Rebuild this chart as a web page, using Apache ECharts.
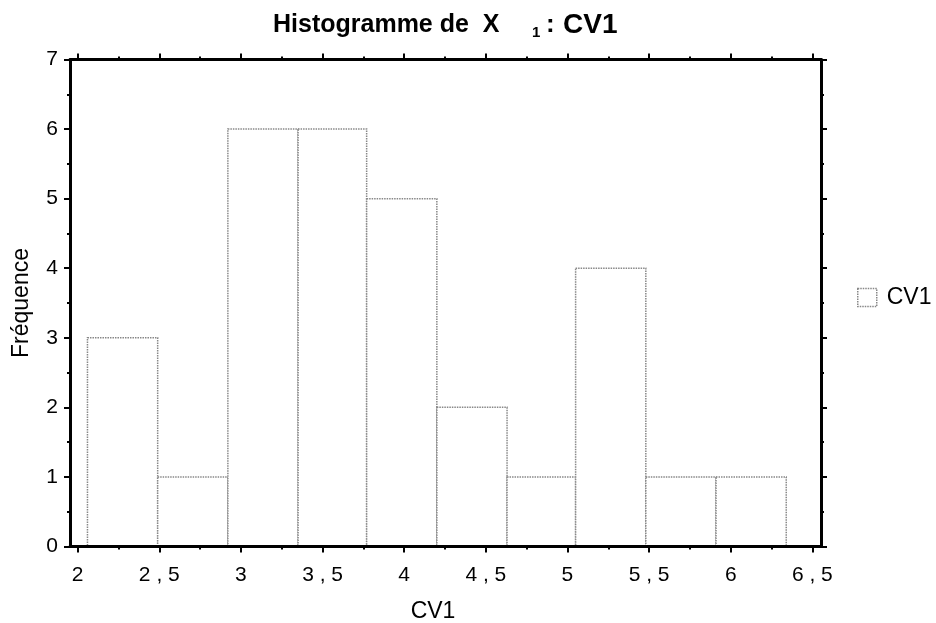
<!DOCTYPE html>
<html>
<head>
<meta charset="utf-8">
<script src="https://cdn.jsdelivr.net/npm/echarts@6/dist/echarts.min.js"></script>
<style>html,body{margin:0;padding:0;background:#fff;}#c{width:936px;height:623px;}</style>
</head>
<body>
<div id="c"></div>
<script>
// ---- data ----
const binStarts = [2.06, 2.49, 2.92, 3.35, 3.77, 4.20, 4.63, 5.05, 5.48, 5.91];
const binEnds   = [2.49, 2.92, 3.35, 3.77, 4.20, 4.63, 5.05, 5.48, 5.91, 6.34];
const frequencies = [3, 1, 6, 6, 5, 2, 1, 4, 1, 1];
const xTickValues = [2, 2.5, 3, 3.5, 4, 4.5, 5, 5.5, 6, 6.5];
const xTickLabels = ['2', '2 , 5', '3', '3 , 5', '4', '4 , 5', '5', '5 , 5', '6', '6 , 5'];
const xMinorTickValues = [2.25, 2.75, 3.25, 3.75, 4.25, 4.75, 5.25, 5.75, 6.25];
const seriesName = 'CV1';
const xAxisName = 'CV1';
const yAxisName = 'Fréquence';
const titleMain = 'Histogramme de  X';
const titleSub = '1';
const titleColon = ':';
const titleTail = 'CV1';

const XMIN = 1.953, XMAX = 6.553;
const FONT = "'Liberation Sans', Arial, Helvetica, sans-serif";

const data = binStarts.map((s, i) => [s, binEnds[i], frequencies[i]]);

const chart = echarts.init(document.getElementById('c'), null, {renderer: 'canvas'});

const axisLine = {show: true, lineStyle: {color: '#000', width: 3}};
const tickStyle = {color: '#000', width: 2};

chart.setOption({
  backgroundColor: '#fff',
  animation: false,
  title: [
    {text: titleMain, left: 273, top: 13, padding: 0,
     textStyle: {fontFamily: FONT, fontSize: 25, fontWeight: 'bold', color: '#000'}},
    {text: titleSub, left: 532, top: 25, padding: 0,
     textStyle: {fontFamily: FONT, fontSize: 15, fontWeight: 'bold', color: '#000'}},
    {text: titleColon, left: 546, top: 12, padding: 0,
     textStyle: {fontFamily: FONT, fontSize: 26, fontWeight: 'bold', color: '#000'}},
    {text: titleTail, left: 563, top: 11, padding: 0,
     textStyle: {fontFamily: FONT, fontSize: 28, fontWeight: 'bold', color: '#000'}}
  ],
  legend: {
    left: 857, top: 286, padding: 0, itemWidth: 19, itemHeight: 18,
    data: [{name: seriesName, icon: 'rect',
            itemStyle: {color: '#fff', borderColor: '#888', borderWidth: 1.5, borderType: [1.5, 1]}}],
    textStyle: {fontFamily: FONT, fontSize: 23, color: '#000', padding: [0, 0, 0, 5]}
  },
  grid: {left: 70, right: 115, top: 59.5, bottom: 76.5, outerBoundsMode: 'none', containLabel: false},
  xAxis: [
    {type: 'value', position: 'bottom', min: XMIN, max: XMAX, z: 10,
     axisLine: axisLine,
     axisTick: {show: true, customValues: xTickValues, length: 6, lineStyle: tickStyle},
     axisLabel: {show: true, customValues: xTickValues, margin: 18,
                 fontFamily: FONT, fontSize: 21, color: '#000',
                 formatter: v => { const i = xTickValues.findIndex(t => Math.abs(t - v) < 1e-6); return i >= 0 ? xTickLabels[i] : ''; }},
     splitLine: {show: false},
     name: xAxisName, nameLocation: 'middle', nameGap: 54,
     nameTextStyle: {fontFamily: FONT, fontSize: 23, color: '#000', padding: [0, 25, 0, 0]}},
    {type: 'value', position: 'bottom', min: XMIN, max: XMAX, z: 10,
     axisLine: {show: false},
     axisTick: {show: true, customValues: xMinorTickValues, length: 3, lineStyle: tickStyle},
     axisLabel: {show: false}, splitLine: {show: false}},
    {type: 'value', position: 'top', min: XMIN, max: XMAX, z: 10,
     axisLine: axisLine,
     axisTick: {show: true, customValues: xTickValues, length: 6, lineStyle: tickStyle},
     axisLabel: {show: false}, splitLine: {show: false}},
    {type: 'value', position: 'top', min: XMIN, max: XMAX, z: 10,
     axisLine: {show: false},
     axisTick: {show: true, customValues: xMinorTickValues, length: 3, lineStyle: tickStyle},
     axisLabel: {show: false}, splitLine: {show: false}}
  ],
  yAxis: [
    {type: 'value', position: 'left', min: 0, max: 7, interval: 1, z: 10,
     axisLine: axisLine,
     axisTick: {show: true, length: 6, lineStyle: tickStyle},
     minorTick: {show: true, splitNumber: 2, length: 3, lineStyle: tickStyle},
     axisLabel: {margin: 12, fontFamily: FONT, fontSize: 21, color: '#000'},
     splitLine: {show: false}, minorSplitLine: {show: false},
     name: yAxisName, nameLocation: 'middle', nameGap: 37,
     nameTextStyle: {fontFamily: FONT, fontSize: 23, color: '#000'}},
    {type: 'value', position: 'right', min: 0, max: 7, interval: 1, z: 10,
     axisLine: axisLine,
     axisTick: {show: true, length: 6, lineStyle: tickStyle},
     minorTick: {show: true, splitNumber: 2, length: 3, lineStyle: tickStyle},
     axisLabel: {show: false},
     splitLine: {show: false}, minorSplitLine: {show: false}}
  ],
  series: [{
    type: 'custom', name: seriesName, xAxisIndex: 0, yAxisIndex: 0, z: 1,
    data: data,
    encode: {x: [0, 1], y: 2},
    itemStyle: {color: '#fff', borderColor: '#888', borderWidth: 1.5},
    renderItem: function (params, api) {
      const p0 = api.coord([api.value(0), api.value(2)]);
      const p1 = api.coord([api.value(1), 0]);
      return {
        type: 'rect',
        shape: {x: p0[0], y: p0[1], width: p1[0] - p0[0], height: p1[1] - p0[1]},
        style: {fill: '#fff', stroke: '#888', lineWidth: 1.5, lineDash: [1.5, 1]}
      };
    }
  }]
});
</script>
</body>
</html>
